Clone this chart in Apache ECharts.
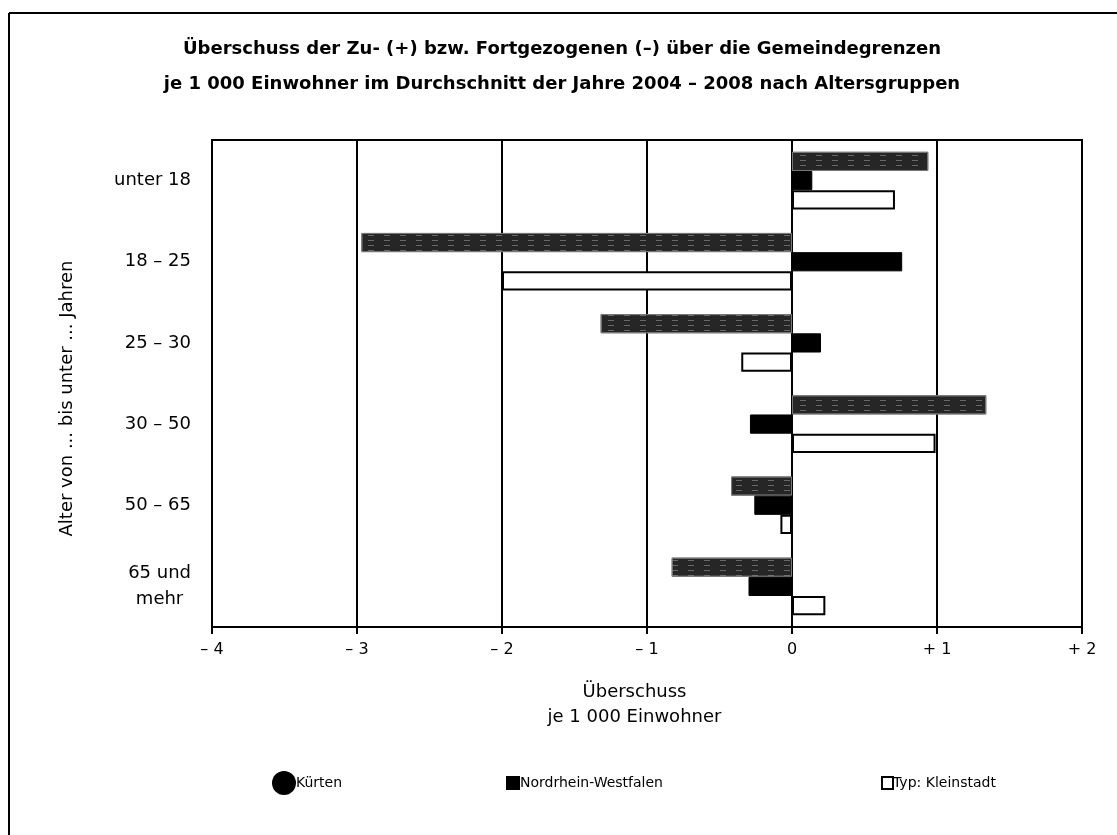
<!DOCTYPE html>
<html><head><meta charset="utf-8">
<script src="https://cdn.jsdelivr.net/npm/echarts@6/dist/echarts.min.js"></script>
<style>html,body{margin:0;padding:0;background:#fff}#c{width:1117px;height:835px}</style>
</head><body><div id="c"></div>
<script>
const categories = ['unter 18', '18 – 25', '25 – 30', '30 – 50', '50 – 65', '65 und\nmehr'];
const kuerten = [0.94, -2.97, -1.32, 1.34, -0.42, -0.83];
const nrw = [0.14, 0.76, 0.20, -0.29, -0.26, -0.30];
const kleinstadt = [0.71, -2.00, -0.35, 0.99, -0.08, 0.23];
const xTickValues = [-4, -3, -2, -1, 0, 1, 2];
const xTickLabels = ['– 4', '– 3', '– 2', '– 1', '0', '+ 1', '+ 2'];
const seriesNames = ['Kürten', 'Nordrhein-Westfalen', 'Typ: Kleinstadt'];

const FONT = '"DejaVu Sans", "Liberation Sans", Arial, sans-serif';
const chart = echarts.init(document.getElementById('c'), null, {renderer: 'canvas'});
chart.setOption({
  backgroundColor: '#fff',
  animation: false,
  title: {
    text: 'Überschuss der Zu- (+) bzw. Fortgezogenen (–) über die Gemeindegrenzen\nje 1 000 Einwohner im Durchschnitt der Jahre 2004 – 2008 nach Altersgruppen',
    left: 557, top: 27, textAlign: 'center',
    textStyle: {fontFamily: FONT, fontSize: 18, fontWeight: 'bold', color: '#000', lineHeight: 35}
  },
  legend: [
    {data: [{name: seriesNames[0], icon: 'circle', itemStyle: {color: '#000', borderWidth: 0, decal: 'none'}}],
     left: 267, top: 766, itemWidth: 24, itemHeight: 24, itemGap: 2,
     textStyle: {fontFamily: FONT, fontSize: 14, color: '#000', padding: [0, 0, 0, -5]}},
    {data: [{name: seriesNames[1], icon: 'rect'}], left: 501, top: 771, itemWidth: 12, itemHeight: 12,
     textStyle: {fontFamily: FONT, fontSize: 14, color: '#000', padding: [0, 0, 0, -4]}},
    {data: [{name: seriesNames[2], icon: 'rect'}], left: 876, top: 771, itemWidth: 11, itemHeight: 12,
     textStyle: {fontFamily: FONT, fontSize: 14, color: '#000', padding: [0, 0, 0, -5]}}
  ],
  grid: {left: 212, right: 35, top: 140, bottom: 208, show: true, borderColor: '#000', borderWidth: 2},
  xAxis: {
    type: 'value', min: -4, max: 2, interval: 1,
    axisLine: {show: true, onZero: false, lineStyle: {color: '#000', width: 2}},
    axisTick: {show: true, inside: false, length: 7, lineStyle: {color: '#000', width: 2}},
    axisLabel: {fontFamily: FONT, fontSize: 16, color: '#000', margin: 15,
      formatter: v => xTickLabels[xTickValues.indexOf(v)]},
    splitLine: {show: true, lineStyle: {color: '#000', width: 2}},
    name: 'Überschuss\nje 1 000 Einwohner', nameLocation: 'middle', nameGap: 53,
    nameTextStyle: {fontFamily: FONT, fontSize: 18, color: '#000', lineHeight: 25, padding: [0, 25, 0, 0]}
  },
  yAxis: {
    type: 'category', data: categories, inverse: true,
    axisLine: {show: true, lineStyle: {color: '#000', width: 2}},
    axisTick: {show: false},
    axisLabel: {fontFamily: FONT, fontSize: 18, color: '#000', margin: 21, align: 'right', lineHeight: 26,
      formatter: v => v.indexOf('\n') >= 0 ? v.split('\n').map(s => '{c|' + s + '}').join('\n') : v,
      rich: {c: {align: 'center', fontFamily: FONT, fontSize: 18, color: '#000', lineHeight: 26}}},
    name: 'Alter von ... bis unter ... Jahren', nameLocation: 'middle', nameGap: 136, nameRotate: 90,
    nameTextStyle: {fontFamily: FONT, fontSize: 18, color: '#000', padding: [0, 0, 0, -30]}
  },
  series: [
    {name: seriesNames[0], type: 'bar', data: kuerten, barGap: '0%', barCategoryGap: '29%',
     itemStyle: {color: '#262626', borderColor: '#777', borderWidth: 1,
       decal: {symbol: 'rect', symbolSize: 1, color: 'rgba(255,255,255,0.3)', dashArrayX: [[6, 10]], dashArrayY: [1, 4], rotation: 0}}},
    {name: seriesNames[1], type: 'bar', data: nrw, barGap: '0%', barCategoryGap: '29%',
     itemStyle: {color: '#000', borderColor: '#000', borderWidth: 1}},
    {name: seriesNames[2], type: 'bar', data: kleinstadt, barGap: '0%', barCategoryGap: '29%',
     itemStyle: {color: '#fff', borderColor: '#000', borderWidth: 2}}
  ],
  graphic: [
    {type: 'line', shape: {x1: 9, y1: 13, x2: 1117, y2: 13}, style: {stroke: '#000', lineWidth: 2}, silent: true},
    {type: 'line', shape: {x1: 9, y1: 13, x2: 9, y2: 835}, style: {stroke: '#000', lineWidth: 2}, silent: true}
  ]
});
</script></body></html>
